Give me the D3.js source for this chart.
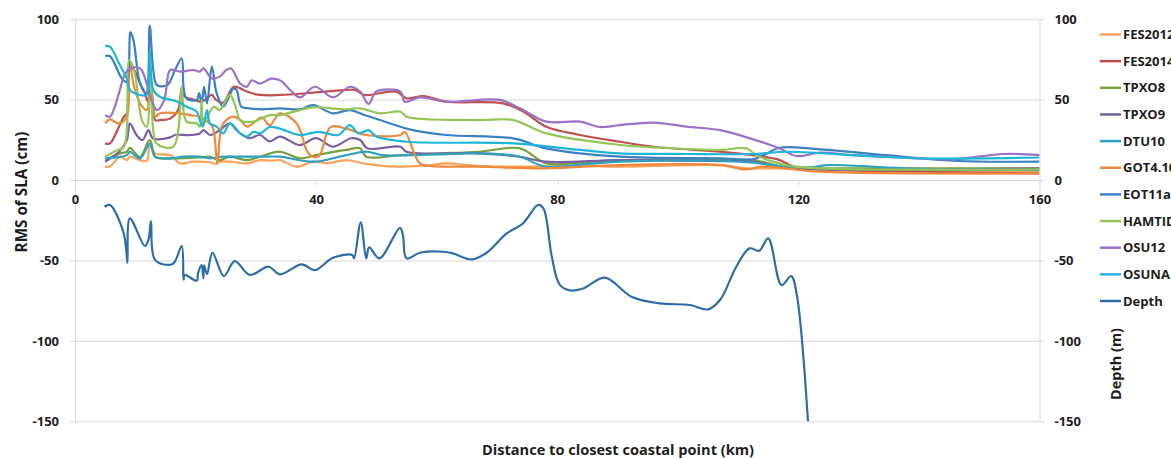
<!DOCTYPE html>
<html><head><meta charset="utf-8">
<script src="https://cdn.jsdelivr.net/npm/d3@7"></script>
<style>
html,body{margin:0;padding:0;background:#fff;}
svg{display:block;font-family:"Open Sans",Lato,sans-serif;}
</style></head>
<body><svg id="c" width="1171" height="459"></svg>
<script>
// ---- data ----
const seriesNames = ["FES2012","FES2014","TPXO8","TPXO9","DTU10","GOT4.10","EOT11a","HAMTIDE","OSU12","OSUNA","Depth"];
const xTicks = [0,40,80,120,160];
const yTicks = [-150,-100,-50,0,50,100];

const fes2012 = [[5,8.3],[5.8,8.5],[7.5,14.5],[8.6,12.4],[9.1,14.5],[10.8,12.4],[11.9,12],[12.4,21.8],[13.3,16.6],[15.8,15.5],[17.4,10.4],[19.6,11.4],[22.4,11],[23.4,10],[24.0,11.4],[25.7,11.4],[28.5,10.4],[30.7,12.4],[32.5,12],[34,12.4],[36.8,8.3],[39.5,11.4],[42,10.5],[45,12.4],[48.3,10],[53.3,8.3],[58,9],[61.6,10.4],[66,9],[72.7,8.3],[78,8.5],[85,8.8],[90.4,8.3],[96,8.8],[107,9.3],[111.4,7.3],[117,7.3],[125,6.5],[140,5.8],[160,5.2]];
const fes2014 = [[5,22.8],[5.8,22.8],[7.3,33.2],[8.1,39.4],[8.6,41.5],[9.1,70.5],[9.8,68.4],[10.8,60],[11.6,54],[12.1,48.7],[12.5,62],[13.0,45],[13.3,37.3],[14.1,37.3],[15.8,38.3],[17.1,43.5],[17.7,56],[18.2,51.8],[19.9,49.8],[20.7,48.7],[21.6,50],[22.7,52.9],[23.4,49.8],[24.6,48.1],[25.7,55],[26.3,58],[27.4,57],[28.5,55],[30.7,52.9],[34,52.9],[39.5,54.3],[45,56],[46.5,56],[48,52.9],[53.3,55],[55,50.8],[57.8,52.2],[61.6,48.7],[71,47.7],[74.4,42.5],[78.2,33.2],[83.8,28],[90.4,23.8],[96,20.7],[107,17.6],[112.5,15.5],[116.9,12.4],[119,8.7],[123.6,6.6],[140,5.2],[160,4.1]];
const tpxo8 = [[5,12.4],[7.5,16.6],[8.6,17.6],[9.1,20],[10.8,14.5],[12.4,25],[13.3,14.5],[14.1,13.5],[17.4,13.5],[20.7,14],[22.4,14.5],[24,12.4],[25.7,14.5],[28.5,12.4],[30.7,14.5],[34,17.6],[37.3,13.5],[40,15.5],[45,18.7],[47.3,19.7],[48.3,14.5],[54,15.5],[60,16.5],[67,17.6],[73.8,19.7],[78.2,10.4],[85,11.2],[90.4,12.4],[100,12.4],[112.5,12.4],[118,7.9],[130,7.3],[160,7.3]];
const tpxo9 = [[5,11.4],[7.3,17.6],[8.6,24.9],[9.1,35.2],[10.2,28],[11.2,24.9],[12.2,31],[12.9,26],[15.8,26.5],[16.6,28],[19.1,28],[20.7,29],[21.3,31],[22.4,28],[24,31],[25.7,35.2],[27.4,29],[29,26],[30.7,28],[32.3,24],[34,27],[37.3,21.8],[40,26],[42.8,20.7],[45.8,26],[47.3,24.9],[48.5,19.7],[54,20.7],[55,17.6],[67,16.6],[73.8,14.5],[78,11.4],[90.4,12.4],[107,11.8],[112.5,11.4],[116.9,8.3],[123.6,6.6],[160,7.3]];
const dtu10 = [[5,13.5],[8.6,15.5],[9.1,17.6],[10.8,13.5],[12.4,22.8],[13.3,14.5],[15.8,13.5],[18,14.5],[20.7,14.5],[22.4,13.5],[24.6,14.5],[27,14.5],[30.7,14.5],[34,14.5],[39.5,11.4],[45,15.5],[48.5,17.6],[51,15.5],[60,16],[67,16.6],[73.8,14.5],[78,8.3],[85,10],[90.4,11.4],[107,12],[112.5,10.8],[116.9,8.7],[122,7.9],[124.7,9.3],[140,7],[160,6.2]];
const got410 = [[5,35.2],[5.8,37.7],[7.3,35.2],[8.6,39.4],[9.0,74],[9.8,58],[10.8,47.7],[11.9,43.5],[12.5,64],[13.3,39.4],[14.1,41.5],[17.4,41.5],[19.1,40.4],[20.7,39.4],[21.6,37.3],[22.8,33.2],[23.6,10.4],[24.3,33.2],[25.1,37.3],[26.3,39.4],[27.4,37.3],[28.5,33.2],[29.5,35.2],[31,39],[32.3,34],[34,41.5],[36.8,35],[38.5,18],[39.5,14.5],[40.5,15],[42.4,33],[45,32],[48.3,28],[54,28],[54.7,30],[57.2,10.4],[59.2,8.7],[67,8.3],[78,7.3],[90.4,9.3],[107,9.3],[111.4,6.6],[114,8.3],[123.6,5.2],[160,4.1]];
const eot11a = [[5,77],[5.8,77],[7.8,63],[8.6,61],[9.2,92],[9.7,87],[10.8,60],[11.8,54],[12.4,96],[13,68],[13.6,59],[15.3,59],[16.6,68.4],[17.7,75.7],[18,58],[18.5,50.8],[20.2,49.8],[20.6,54],[21,47.7],[21.4,58],[21.9,47.7],[22.7,70.5],[23.5,54],[24.6,45.6],[26.3,57],[26.8,56],[27.6,45.6],[29,44.6],[30.7,44],[34,44.6],[37.3,44],[39.5,46.6],[42.8,41.5],[45.6,43.5],[48,40.4],[50.6,37.3],[56,31],[61.6,28],[72.7,25.9],[78.2,19.7],[90.4,14.5],[107,13.5],[112.5,12.9],[114.3,15.5],[116.9,20.1],[123.6,19.1],[134.5,15.5],[145.7,12],[160,11.4]];
const hamtide = [[5,14.5],[6.5,17.6],[8.1,20.7],[8.6,31],[9.0,74.6],[9.8,68.4],[11.1,37.3],[11.9,33.2],[12.5,70],[13.0,30],[13.5,22.8],[16.3,20.7],[17.7,58],[18.0,43.5],[18.5,36.3],[20.2,35.2],[20.7,33.2],[21.0,49.8],[21.3,35],[23,45.6],[24,43.5],[25.7,53],[26.8,43.5],[27.4,37.3],[29.6,36.3],[32.3,40.4],[34,40.4],[37.3,43.5],[39.5,45.2],[45,44],[47.3,44.6],[50.6,41.5],[54,42.5],[55,39.4],[67,37.3],[72.7,37.3],[78.2,29],[90.4,21.8],[96,20.3],[107,18.7],[111.4,19.7],[113,15.5],[118,9.3],[123.6,7.3],[160,6.6]];
const osu12 = [[5,40.4],[5.8,39.4],[7.3,54],[8.1,64.3],[9.1,69.4],[10.8,69.4],[11.9,60],[12.7,49.8],[13.6,43.5],[14.8,49.8],[15.8,68.4],[17.4,67.4],[19.6,68.4],[20.7,67.4],[21.3,69.4],[22.7,63.2],[24,64.3],[25.1,68.4],[25.9,69.4],[27.4,60],[28.5,58],[29.3,62],[30.7,60],[32.5,63],[34,62],[35.7,56],[37.3,51.4],[39.8,58],[42.8,51.4],[45.6,58],[47.3,55],[48.7,47.3],[50,55],[54,55],[54.7,48.7],[57.2,51.4],[61.6,48.7],[70.5,49.8],[73.8,44.6],[78.2,36.3],[83.8,36.3],[87.1,33],[90.4,34.2],[96,35.7],[101.4,33.2],[107,31],[112.5,25.3],[116.9,19.7],[119.7,14.9],[123.6,17],[129,15.5],[134.5,14.5],[145.7,12.9],[154,16.2],[160,15.5]];
const osuna = [[5,83.3],[5.8,83],[7.3,72.6],[8.6,63],[9.1,56],[10.8,52.9],[11.9,52.9],[12.4,80.8],[13,56],[14.1,51.8],[17,48.7],[18.5,45.6],[20.2,42.5],[20.7,37.3],[21.2,33.2],[21.9,43.5],[22.4,35.2],[23.5,33.2],[24.6,29],[25.7,35.2],[26.8,31],[28.5,27],[29.6,30],[30.7,29],[32.3,33],[34,32],[37.3,28],[40.4,30],[43.7,28],[45.6,34.2],[47,29],[48.7,31],[50,27],[55,23.8],[72.7,22.8],[83.8,18.7],[90.4,16.6],[101.4,16.2],[112.5,16.2],[118,17.6],[129,15.5],[140,13.5],[160,14]];
const depth = [[4.9,-16.6],[5.8,-15.5],[8.0,-32],[8.5,-43.5],[8.7,-51.4],[9.1,-23.8],[11.6,-41],[12.2,-37],[12.6,-25.5],[13.3,-49.8],[16.2,-52.2],[17.7,-41],[18.0,-62],[18.2,-59],[20.2,-62.6],[20.4,-58],[21.0,-52.9],[21.3,-61],[21.4,-53],[21.9,-58.5],[22.8,-45.2],[24.7,-59.7],[26.5,-50.4],[29.0,-59],[32.1,-53.9],[34.0,-58.6],[37.6,-52.4],[39.8,-56],[42.8,-48.3],[46.0,-46.6],[46.3,-48.7],[47.4,-26.3],[48.3,-48.7],[48.8,-41.9],[50.5,-48.7],[53.9,-29.7],[54.4,-34.2],[55.0,-48.7],[57.2,-45.2],[61.1,-44.6],[62.7,-45.6],[65.8,-49.3],[68.3,-45.2],[71.6,-33.2],[74.3,-27],[76.8,-15.5],[77.7,-17.6],[79.1,-47.7],[80.4,-65],[82.1,-68.6],[84.3,-67.4],[87.9,-60.7],[92.3,-72.5],[97.0,-76.7],[102.0,-77.7],[105.0,-80.4],[107.0,-74.6],[109.7,-53.9],[111.9,-42.5],[113.5,-44],[115.0,-36.3],[117.2,-65.3],[118.8,-59.7],[119.7,-70.5],[121.6,-150.3]];

const seriesData = [fes2012,fes2014,tpxo8,tpxo9,dtu10,got410,eot11a,hamtide,osu12,osuna,depth];
const colors = ["#F9A35B","#C0504D","#77A03F","#7C5FA1","#2FA0BD","#F0883C","#3C80C2","#93C657","#9B73C6","#1FB5DB","#2E6EA7"];

// ---- chart ----
const svg = d3.select("#c");
const x = d3.scaleLinear().domain([0,160]).range([75,1039.5]);
const y = d3.scaleLinear().domain([-150,100]).range([421.3,19.2]);
const gridC = "#d9d9d9", txtC = "#1e1e1e";
const FONT = "'Open Sans', Lato, sans-serif";
const fmt = d => String(d);

svg.append("g").attr("transform",`translate(${x(0)},0)`)
  .call(d3.axisLeft(y).tickValues(yTicks).tickSize(-(x(160)-x(0))).tickFormat(""))
  .call(g=>{g.select(".domain").remove(); g.selectAll("line").attr("stroke",gridC);});

function styleAxis(g){
  g.select(".domain").attr("stroke",gridC);
  g.selectAll(".tick line").attr("stroke",gridC);
  g.selectAll("text").attr("fill",txtC).attr("font-size",13).attr("font-weight","bold").attr("font-family",FONT);
}
svg.append("g").attr("transform",`translate(${x(0)},0)`)
  .call(d3.axisLeft(y).tickValues(yTicks).tickFormat(fmt).tickSizeInner(5).tickSizeOuter(0).tickPadding(11))
  .call(styleAxis);
svg.append("g").attr("transform",`translate(${x(160)},0)`)
  .call(d3.axisRight(y).tickValues(yTicks).tickFormat(fmt).tickSizeInner(5).tickSizeOuter(0).tickPadding(10))
  .call(styleAxis);
svg.append("g").attr("transform",`translate(0,${y(0)})`)
  .call(d3.axisBottom(x).tickValues(xTicks).tickFormat(fmt).tickSizeInner(5).tickSizeOuter(0).tickPadding(10))
  .call(styleAxis);

svg.append("clipPath").attr("id","plotclip").append("rect")
  .attr("x",x(0)).attr("y",y(100)-5).attr("width",x(160)-x(0)).attr("height",y(-150)-y(100)+5);

const line = d3.line().x(d=>x(d[0])).y(d=>y(d[1])).curve(d3.curveCatmullRom.alpha(0.5));
const lg = svg.append("g").attr("clip-path","url(#plotclip)");
seriesData.forEach((s,i)=>{
  lg.append("path").datum(s).attr("d",line).attr("fill","none")
    .attr("stroke",colors[i]).attr("stroke-width",2.2).attr("stroke-linejoin","round");
});

function fitText(t, target){
  const len = t.node().getComputedTextLength();
  const fs = parseFloat(t.attr("font-size"));
  if (len > 0) t.attr("font-size", (fs*target/len).toFixed(2));
}
const t1 = svg.append("text").attr("transform",`translate(27,192) rotate(-90)`).attr("text-anchor","middle")
  .attr("font-size",14).attr("font-weight","bold").attr("fill",txtC).text("RMS of SLA (cm)");
fitText(t1,121);
const t2 = svg.append("text").attr("transform",`translate(1121,364) rotate(-90)`).attr("text-anchor","middle")
  .attr("font-size",14).attr("font-weight","bold").attr("fill",txtC).text("Depth (m)");
fitText(t2,72);
const t3 = svg.append("text").attr("x",618).attr("y",455).attr("text-anchor","middle")
  .attr("font-size",15).attr("font-weight","bold").attr("fill",txtC).text("Distance to closest coastal point (km)");
fitText(t3,272);

const leg = svg.append("g");
seriesNames.forEach((n,i)=>{
  const yy = 34.5 + i*26.65;
  leg.append("line").attr("x1",1100).attr("x2",1121).attr("y1",yy).attr("y2",yy)
    .attr("stroke",colors[i]).attr("stroke-width",2.5);
  leg.append("text").attr("x",1123).attr("y",yy).attr("dy","0.35em")
    .attr("font-size",13).attr("font-weight","bold").attr("fill",txtC).text(n);
});
</script></body></html>
